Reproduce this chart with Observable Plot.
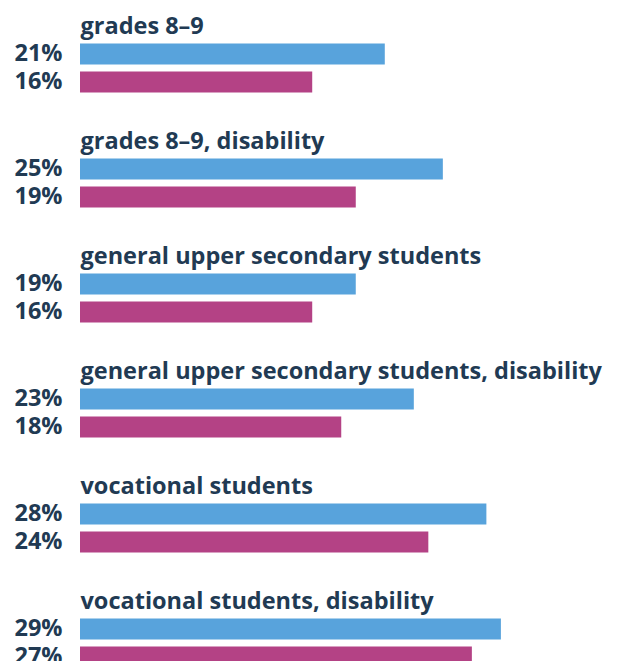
<!DOCTYPE html>
<html>
<head>
<meta charset="utf-8">
<script src="https://cdn.jsdelivr.net/npm/d3@7"></script>
<script src="https://cdn.jsdelivr.net/npm/@observablehq/plot@0.6"></script>
<style>
  html, body { margin: 0; padding: 0; background: #fff; overflow: hidden; }
</style>
</head>
<body>
<div id="chart"></div>
<script>
const groups = [
  "grades 8–9",
  "grades 8–9, disability",
  "general upper secondary students",
  "general upper secondary students, disability",
  "vocational students",
  "vocational students, disability"
];
const blueValues = [21, 25, 19, 23, 28, 29];
const pinkValues = [16, 19, 16, 18, 24, 27];
const seriesKeys = ["a", "b"];
const seriesColors = ["#58a3dc", "#b44285"];
const textColor = "#213a53";

const rows = groups.flatMap((g, i) => [
  {group: g, series: "a", value: blueValues[i]},
  {group: g, series: "b", value: pinkValues[i]}
]);

const chart = Plot.plot({
  width: 617,
  height: 668,
  marginLeft: 80,
  marginRight: 0,
  marginTop: 14.5,
  marginBottom: 0,
  x: {domain: [0, 37], axis: null},
  y: {domain: ["t", "a", "b"], paddingInner: 0.25, paddingOuter: 0, axis: null},
  fy: {domain: groups, paddingInner: 0.318, paddingOuter: 0, axis: null},
  color: {domain: seriesKeys, range: seriesColors},
  style: {fontFamily: "'Open Sans', sans-serif", fontSize: "23.5px", fontWeight: 700, color: textColor, background: "#fff", overflow: "visible"},
  marks: [
    Plot.barX(rows, {x: "value", y: "series", fy: "group", fill: "series"}),
    Plot.text(rows, {x: 0, y: "series", fy: "group", text: d => d.value + "%", textAnchor: "end", dx: -18, dy: -1, fill: textColor, fontSize: 23.5, fontWeight: 700}),
    Plot.text(groups, {x: 0, y: () => "t", fy: d => d, text: d => d, textAnchor: "start", fill: textColor, fontSize: 23.5, fontWeight: 700})
  ]
});
document.getElementById("chart").append(chart);
</script>
</body>
</html>
